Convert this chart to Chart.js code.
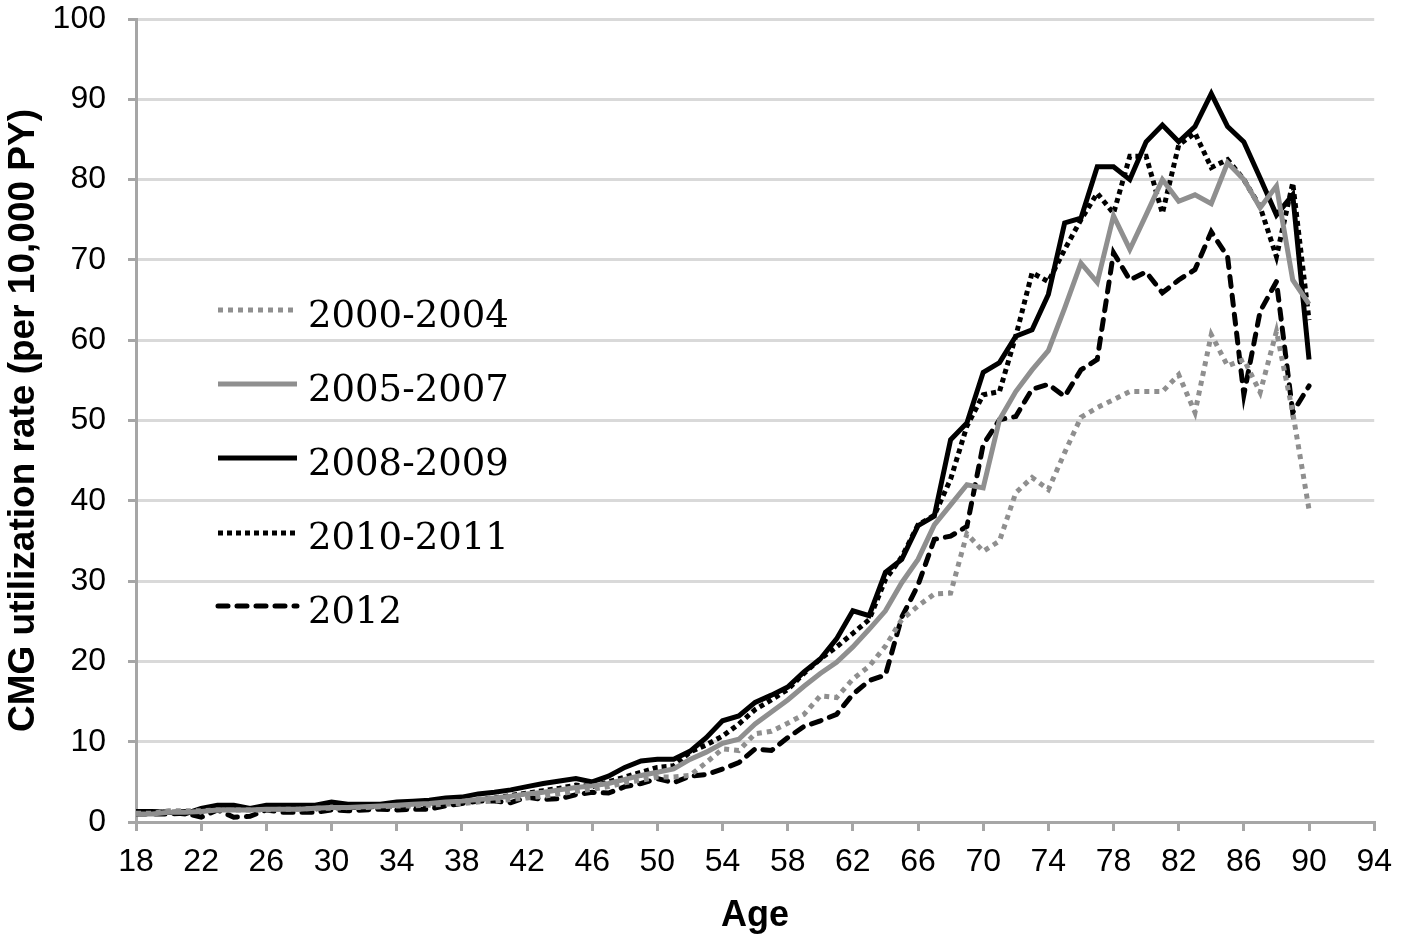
<!DOCTYPE html>
<html>
<head>
<meta charset="utf-8">
<script src="https://cdn.jsdelivr.net/npm/chart.js@4/dist/chart.umd.min.js"></script>
<style>
  html, body { margin: 0; padding: 0; background: #fff; }
  #wrap { width: 1404px; height: 934px; }
</style>
</head>
<body>
<div id="wrap"><canvas id="cmg" width="1404" height="934"></canvas></div>
<script>
'use strict';

const ages = [
  18, 19, 20, 21, 22, 23, 24, 25, 26, 27, 28, 29, 30, 31, 32, 33, 34, 35, 36, 37,
  38, 39, 40, 41, 42, 43, 44, 45, 46, 47, 48, 49, 50, 51, 52, 53, 54, 55, 56, 57,
  58, 59, 60, 61, 62, 63, 64, 65, 66, 67, 68, 69, 70, 71, 72, 73, 74, 75, 76, 77,
  78, 79, 80, 81, 82, 83, 84, 85, 86, 87, 88, 89, 90
];

const y2000 = [
  1.1, 1.1, 1.4, 1.4, 1.4, 1.5, 1.5, 1.5, 1.5, 1.6, 1.6, 1.7, 1.7, 1.8, 1.8, 1.9, 2.0, 2.0, 2.1, 2.2,
  2.3, 2.5, 2.6, 2.8, 3.0, 3.2, 3.5, 3.8, 4.1, 4.4, 4.9, 5.2, 5.6, 5.6, 5.8, 7.4, 9.1, 8.9, 11.0, 11.3,
  12.3, 13.4, 15.7, 15.5, 17.8, 19.4, 21.9, 25.2, 26.9, 28.4, 28.5, 35.9, 33.7, 35.0, 41.0, 42.9, 41.4, 46.0, 50.4, 51.6,
  52.6, 53.6, 53.6, 53.6, 55.7, 51.0, 60.7, 56.8, 57.6, 53.5, 61.1, 51.0, 38.9
];

const y2005 = [
  1.0, 1.0, 1.2, 1.2, 1.3, 1.5, 1.5, 1.5, 1.6, 1.6, 1.6, 1.7, 1.8, 1.8, 1.9, 2.0, 2.1, 2.2, 2.3, 2.5,
  2.6, 2.8, 3.0, 3.2, 3.5, 3.7, 4.0, 4.3, 4.5, 4.8, 5.3, 5.8, 6.2, 6.6, 7.8, 8.7, 9.8, 10.3, 12.2, 13.7,
  15.2, 16.9, 18.5, 19.9, 21.8, 24.0, 26.3, 29.8, 32.7, 37.0, 39.5, 42.0, 41.6, 50.1, 53.6, 56.3, 58.7, 64.0, 69.6, 67.2,
  75.5, 71.3, 75.6, 80.0, 77.3, 78.1, 77.0, 82.1, 80.0, 76.5, 79.2, 67.5, 64.5
];

const y2008 = [
  1.3, 1.3, 1.2, 1.0, 1.7, 2.1, 2.1, 1.7, 2.1, 2.1, 2.1, 2.1, 2.5, 2.2, 2.2, 2.2, 2.5, 2.6, 2.7, 3.0,
  3.1, 3.5, 3.7, 4.0, 4.4, 4.8, 5.1, 5.4, 5.0, 5.7, 6.8, 7.6, 7.8, 7.8, 8.8, 10.5, 12.6, 13.2, 14.9, 15.8,
  16.8, 18.7, 20.3, 22.8, 26.3, 25.7, 31.1, 32.7, 36.9, 38.1, 47.6, 49.7, 56.0, 57.2, 60.5, 61.3, 65.7, 74.6, 75.2, 81.6,
  81.6, 80.0, 84.7, 86.8, 84.7, 86.6, 90.7, 86.6, 84.7, 80.2, 75.6, 78.1, 57.6
];

const y2010 = [
  1.2, 1.2, 1.2, 1.3, 1.3, 1.8, 1.6, 1.6, 1.6, 1.7, 1.7, 1.6, 2.0, 1.8, 1.8, 2.0, 2.0, 2.0, 2.2, 2.4,
  2.6, 2.8, 3.0, 3.3, 3.6, 3.9, 4.2, 4.6, 4.4, 5.0, 5.6, 6.2, 6.8, 7.0, 8.7, 9.6, 10.7, 12.2, 14.0, 15.2,
  16.5, 18.5, 20.3, 21.8, 23.5, 25.2, 30.2, 33.0, 37.0, 38.2, 42.7, 49.3, 53.2, 53.6, 60.5, 68.4, 67.3, 71.3, 75.0, 78.3,
  75.8, 82.9, 82.9, 75.8, 84.3, 85.8, 81.5, 82.5, 80.0, 76.6, 70.4, 79.6, 62.5
];

const y2012 = [
  1.0, 1.0, 1.0, 1.1, 0.6, 1.5, 0.6, 0.7, 1.5, 1.2, 1.2, 1.2, 1.5, 1.4, 1.5, 1.6, 1.5, 1.6, 1.6, 2.0,
  2.3, 2.6, 2.6, 2.4, 3.1, 2.8, 2.9, 3.4, 3.7, 3.6, 4.4, 4.8, 5.4, 4.9, 5.7, 5.9, 6.6, 7.4, 9.1, 8.9,
  10.5, 11.9, 12.6, 13.4, 15.9, 17.6, 18.3, 25.5, 29.5, 35.2, 35.6, 36.8, 47.0, 50.1, 50.5, 53.9, 54.5, 53.0, 56.3, 57.6,
  70.9, 67.5, 68.5, 65.9, 67.5, 68.8, 73.5, 70.4, 53.2, 63.6, 67.3, 51.0, 54.3
];

const seriesNames = ['2000-2004', '2005-2007', '2008-2009', '2010-2011', '2012'];

const GRAY = '#8f8f8f';
const SANS = '"Liberation Sans", Arial, sans-serif';
const toPoints = vals => ages.map((a, i) => ({ x: a, y: vals[i] }));

function line(label, vals, color, dash, cap) {
  return {
    label,
    data: toPoints(vals),
    borderColor: color,
    backgroundColor: color,
    borderWidth: 5,
    borderDash: dash,
    borderCapStyle: cap,
    borderJoinStyle: 'miter',
    pointRadius: 0,
    tension: 0,
    fill: false,
  };
}

// legend sits inside the plot, drawn by hand from the dataset styles
const insideLegend = {
  id: 'insideLegend',
  afterDatasetsDraw(chart) {
    const ctx = chart.ctx;
    const lineY = [310, 384, 458, 533, 606];
    const baseY = [327, 401, 475, 549, 623];
    chart.data.datasets.forEach((ds, i) => {
      ctx.save();
      ctx.strokeStyle = ds.borderColor;
      ctx.lineWidth = ds.borderWidth;
      ctx.setLineDash(ds.borderDash || []);
      ctx.lineCap = ds.borderCapStyle;
      ctx.beginPath();
      ctx.moveTo(218, lineY[i]);
      ctx.lineTo(297, lineY[i]);
      ctx.stroke();
      ctx.setLineDash([]);
      ctx.fillStyle = '#000';
      ctx.font = '37px "DejaVu Serif"';
      ctx.textBaseline = 'alphabetic';
      ctx.textAlign = 'left';
      ctx.fillText(ds.label, 308, baseY[i]);
      ctx.restore();
    });
  }
};

new Chart('cmg', {
  type: 'line',
  data: {
    datasets: [
      line(seriesNames[0], y2000, GRAY, [5, 5], 'butt'),
      line(seriesNames[1], y2005, GRAY, [], 'butt'),
      line(seriesNames[2], y2008, '#000', [], 'butt'),
      line(seriesNames[3], y2010, '#000', [5, 4], 'butt'),
      line(seriesNames[4], y2012, '#000', [10, 9], 'round'),
    ]
  },
  options: {
    responsive: false,
    animation: false,
    devicePixelRatio: 1,
    layout: { padding: { top: 0, right: 27, left: 0, bottom: 0 } },
    plugins: {
      legend: { display: false },
      tooltip: { enabled: false },
    },
    scales: {
      x: {
        type: 'linear',
        min: 18,
        max: 94,
        afterFit: s => { s.height = 112; },
        border: { color: '#a6a6a6', width: 3 },
        grid: { drawOnChartArea: false, drawTicks: true, tickLength: 9, color: '#a6a6a6', lineWidth: 3 },
        ticks: {
          stepSize: 4,
          color: '#000',
          padding: 12,
          maxRotation: 0,
          font: { family: SANS, size: 32 },
        },
        title: {
          display: true,
          text: 'Age',
          color: '#000',
          padding: { top: 0, bottom: 0 },
          font: { family: SANS, size: 36, weight: 'bold', lineHeight: 1 },
        },
      },
      y: {
        min: 0,
        max: 100,
        afterFit: s => {
          s.width = 136;
          // ticks.padding is added to the top overhang too; keep the plot top at 19px
          s.paddingTop = 19;
          s.paddingBottom = 19;
        },
        border: { color: '#a6a6a6', width: 3 },
        grid: { color: '#d9d9d9', lineWidth: 3, tickLength: 8, tickColor: '#a6a6a6' },
        ticks: {
          stepSize: 10,
          color: '#000',
          padding: 22,
          font: { family: SANS, size: 32 },
        },
        title: {
          display: true,
          text: 'CMG utilization rate (per 10,000 PY)',
          color: '#000',
          padding: { top: 2, bottom: 0 },
          font: { family: SANS, size: 37, weight: 'bold' },
        },
      },
    },
  },
  plugins: [insideLegend],
});
</script>
</body>
</html>
